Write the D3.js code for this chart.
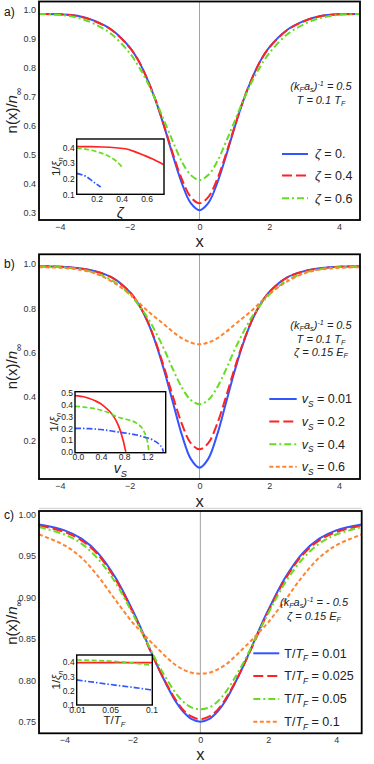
<!DOCTYPE html>
<html>
<head>
<meta charset="utf-8">
<script src="https://cdn.jsdelivr.net/npm/d3@7"></script>
<style>
body { margin: 0; background: #fff; }
svg { display: block; font-family: "Liberation Sans", Arial, sans-serif; }
</style>
</head>
<body>
<svg width="374" height="764"></svg>
<script>
const svg = d3.select("svg");

// ---- data ----
const xAB = [-4.6,-4,-3.5,-3,-2.5,-2,-1.75,-1.5,-1.25,-1,-0.75,-0.5,-0.25,0,0.25,0.5,0.75,1,1.25,1.5,1.75,2,2.5,3,3.5,4,4.6];
const xC  = [-4.75,-4,-3.5,-3,-2.5,-2,-1.75,-1.5,-1.25,-1,-0.75,-0.5,-0.25,0,0.25,0.5,0.75,1,1.25,1.5,1.75,2,2.5,3,3.5,4,4.75];

// panel a: zeta = 0, 0.4, 0.6
const aZeta0  = [0.986,0.985,0.980,0.962,0.930,0.871,0.825,0.762,0.685,0.592,0.492,0.400,0.333,0.309,0.333,0.400,0.492,0.592,0.685,0.762,0.825,0.871,0.930,0.962,0.980,0.985,0.986];
const aZeta04 = [0.986,0.985,0.979,0.961,0.929,0.870,0.825,0.762,0.686,0.595,0.499,0.414,0.354,0.333,0.354,0.414,0.499,0.595,0.686,0.762,0.825,0.870,0.929,0.961,0.979,0.985,0.986];
const aZeta06 = [0.986,0.983,0.973,0.951,0.914,0.851,0.806,0.752,0.686,0.614,0.542,0.475,0.430,0.413,0.430,0.475,0.542,0.614,0.686,0.752,0.806,0.851,0.914,0.951,0.973,0.983,0.986];

// panel b: vS = 0.01, 0.2, 0.4, 0.6
const bV001 = [0.990,0.988,0.982,0.968,0.939,0.874,0.819,0.743,0.640,0.512,0.367,0.225,0.119,0.079,0.119,0.225,0.367,0.512,0.640,0.743,0.819,0.874,0.939,0.968,0.982,0.988,0.990];
const bV02  = [0.990,0.988,0.981,0.967,0.938,0.873,0.820,0.745,0.645,0.525,0.395,0.275,0.190,0.162,0.190,0.275,0.395,0.525,0.645,0.745,0.820,0.873,0.938,0.967,0.981,0.988,0.990];
const bV04  = [0.990,0.986,0.978,0.960,0.925,0.862,0.815,0.760,0.690,0.610,0.520,0.440,0.385,0.366,0.385,0.440,0.520,0.610,0.690,0.760,0.815,0.862,0.925,0.960,0.978,0.986,0.990];
const bV06  = [0.986,0.983,0.976,0.958,0.920,0.865,0.828,0.790,0.757,0.725,0.692,0.664,0.645,0.637,0.645,0.664,0.692,0.725,0.757,0.790,0.828,0.865,0.920,0.958,0.976,0.983,0.986];

// panel c: T/TF = 0.01, 0.025, 0.05, 0.1
const cT001  = [0.988,0.981,0.971,0.953,0.924,0.885,0.863,0.839,0.816,0.795,0.776,0.762,0.753,0.750,0.753,0.762,0.776,0.795,0.816,0.839,0.863,0.885,0.924,0.953,0.971,0.981,0.988];
const cT0025 = [0.987,0.979,0.969,0.951,0.922,0.883,0.861,0.838,0.816,0.796,0.778,0.764,0.756,0.753,0.756,0.764,0.778,0.796,0.816,0.838,0.861,0.883,0.922,0.951,0.969,0.979,0.987];
const cT005  = [0.985,0.976,0.965,0.946,0.918,0.881,0.861,0.840,0.820,0.802,0.786,0.774,0.767,0.765,0.767,0.774,0.786,0.802,0.820,0.840,0.861,0.881,0.918,0.946,0.965,0.976,0.985];
const cT01   = [0.976,0.963,0.948,0.925,0.897,0.870,0.859,0.848,0.838,0.828,0.819,0.813,0.809,0.808,0.809,0.813,0.819,0.828,0.838,0.848,0.859,0.870,0.897,0.925,0.948,0.963,0.976];

// insets: 1/xi_n
const insAx1 = [0.04,0.15,0.25,0.35,0.44,0.5,0.573,0.65,0.733];
const insAy1 = [0.404,0.404,0.402,0.397,0.389,0.374,0.351,0.325,0.291];
const insAx2 = [0.04,0.1,0.2,0.3,0.36,0.413];
const insAy2 = [0.395,0.39,0.372,0.342,0.31,0.266];
const insAx3 = [0.04,0.08,0.12,0.17,0.2,0.232];
const insAy3 = [0.234,0.225,0.212,0.182,0.165,0.147];

const insBx1 = [-0.05,0,0.1,0.2,0.3,0.383,0.46,0.555,0.62,0.67,0.72,0.757,0.79,0.815,0.83];
const insBy1 = [0.48,0.478,0.47,0.455,0.435,0.414,0.385,0.342,0.3,0.257,0.2,0.143,0.085,0.029,0.0];
const insBx2 = [-0.05,0.1,0.25,0.383,0.5,0.67,0.85,1.02,1.13,1.18,1.21,1.23];
const insBy2 = [0.388,0.382,0.372,0.357,0.34,0.30,0.275,0.243,0.186,0.13,0.07,0.0];
const insBx3 = [-0.05,0.2,0.4,0.67,0.85,1.02,1.15,1.3,1.42,1.46,1.48];
const insBy3 = [0.2,0.197,0.19,0.171,0.158,0.143,0.125,0.1,0.057,0.03,0.0];

const insCx1 = [0.0096,0.101];
const insCy1 = [0.398,0.398];
const insCx2 = [0.0096,0.03,0.05,0.07,0.085,0.101];
const insCy2 = [0.416,0.413,0.408,0.399,0.39,0.378];
const insCx3 = [0.0096,0.03,0.056,0.08,0.101];
const insCy3 = [0.276,0.26,0.24,0.222,0.205];

// tick labels
const xTicksMain = [-4,-2,0,2,4];
const yTicksA = [0.3,0.4,0.5,0.6,0.7,0.8,0.9,1.0];
const yTicksB = [0.2,0.4,0.6,0.8,1.0];
const yTicksC = [0.75,0.80,0.85,0.90,0.95,1.00];

// ---- styles ----
const BLUE = "#3355ff", RED = "#ff2222", GREEN = "#66dd22", ORANGE = "#ff8430";
const sBlue = {color: BLUE, dash: null};
const sRed = {color: RED, dash: "10,4"};
const sGreen = {color: GREEN, dash: "7,3,2,3"};
const sOrange = {color: ORANGE, dash: "4,2.5"};
const iRed = {color: RED, dash: null};
const iGreen = {color: GREEN, dash: "5,2.5"};
const iBlue = {color: BLUE, dash: "6,2,1.5,2"};

// text with italic / sub / sup parts
function rich(sel, parts, size, subShift = 0.3) {
  let shift = 0;
  parts.forEach(p => {
    const ts = sel.append("tspan").text(p.t);
    if (p.i) ts.attr("font-style", "italic");
    const target = p.sub ? size * subShift : p.sup ? -size * 0.36 : 0;
    if (target !== shift) { ts.attr("dy", target - shift); shift = target; }
    if (p.sub || p.sup) ts.attr("font-size", size * 0.66);
  });
  return sel;
}

function styleAxis(a, size, color) {
  a.select(".domain").remove();
  a.attr("font-family", null).attr("font-size", size);
  a.selectAll("text").attr("fill", color);
}

function drawPanel(p) {
  const [L, R, T, B] = p.box;
  const g = svg.append("g");
  const x = d3.scaleLinear().domain(p.xDomain).range([L, R]);
  const y = d3.scaleLinear().domain(p.yDomain).range([B, T]);

  svg.append("clipPath").attr("id", "clip" + p.name)
    .append("rect").attr("x", L).attr("y", T).attr("width", R - L).attr("height", B - T);

  g.append("line")
    .attr("x1", x(0)).attr("x2", x(0)).attr("y1", T).attr("y2", B)
    .attr("stroke", "#999").attr("stroke-width", 0.9);

  const line = d3.line().x(d => x(d[0])).y(d => y(d[1])).curve(d3.curveCatmullRom);
  const curves = g.append("g").attr("clip-path", `url(#clip${p.name})`);
  p.series.forEach(s => {
    curves.append("path")
      .attr("d", line(p.xs.map((v, i) => [v, s.values[i]])))
      .attr("fill", "none")
      .attr("stroke", s.style.color)
      .attr("stroke-width", 2)
      .attr("stroke-dasharray", s.style.dash);
  });

  g.append("rect").attr("x", L).attr("y", T).attr("width", R - L).attr("height", B - T)
    .attr("fill", "none").attr("stroke", "#000").attr("stroke-width", 1.8);

  g.append("g").attr("transform", `translate(0,${B})`)
    .call(d3.axisBottom(x).tickValues(xTicksMain).tickSize(0).tickPadding(3.5).tickFormat(d3.format("d")))
    .call(a => styleAxis(a, 9, "#333"));
  g.append("g").attr("transform", `translate(${L},0)`)
    .call(d3.axisLeft(y).tickValues(p.yTicks).tickSize(0).tickPadding(3).tickFormat(d3.format(p.yFormat)))
    .call(a => styleAxis(a, 9, "#333"));

  // axis titles
  g.append("text").attr("x", x(0)).attr("y", p.xTitleY).attr("text-anchor", "middle")
    .attr("font-size", 16.5).attr("fill", "#222").text("x");
  rich(g.append("text").attr("transform", `translate(17,${(T + B) / 2}) rotate(-90)`)
    .attr("text-anchor", "middle").attr("font-size", 15).attr("fill", "#222"),
    [{t: "n(x)/"}, {t: "n", i: true}, {t: "∞", sub: true}], 15);
  g.append("text").attr("x", 4).attr("y", p.tagY).attr("font-size", 12).attr("fill", "#111").text(p.tag);

  // annotation
  p.notes.forEach((parts, i) => {
    rich(g.append("text").attr("x", p.noteX).attr("y", p.noteY + i * p.noteStep)
      .attr("text-anchor", "middle").attr("font-size", 11).attr("font-style", "italic").attr("fill", "#222"),
      parts, 11, 0.22);
  });

  // legend
  p.legend.forEach((item, i) => {
    const ly = p.legendY[i];
    g.append("line").attr("x1", p.legendX[0]).attr("x2", p.legendX[1]).attr("y1", ly).attr("y2", ly)
      .attr("stroke", item.style.color).attr("stroke-width", 2).attr("stroke-dasharray", item.style.dash);
    rich(g.append("text").attr("x", p.legendX[2]).attr("y", ly + 4.3)
      .attr("font-size", 12.5).attr("fill", "#222"), item.parts, 12.5);
  });

  drawInset(p.inset);
}

function drawInset(q) {
  const [L, R, T, B] = q.box;
  const g = svg.append("g");
  const x = d3.scaleLinear().domain(q.xDomain).range([L, R]);
  const y = d3.scaleLinear().domain(q.yDomain).range([B, T]);
  g.append("rect").attr("x", L).attr("y", T).attr("width", R - L).attr("height", B - T).attr("fill", "#fff");
  const line = d3.line().x(d => x(d[0])).y(d => y(d[1])).curve(d3.curveMonotoneX);
  q.series.forEach(s => {
    g.append("path")
      .attr("d", line(s.xs.map((v, i) => [v, s.ys[i]])))
      .attr("fill", "none").attr("stroke", s.style.color)
      .attr("stroke-width", 1.7).attr("stroke-dasharray", s.style.dash);
  });
  g.append("rect").attr("x", L).attr("y", T).attr("width", R - L).attr("height", B - T)
    .attr("fill", "none").attr("stroke", "#000").attr("stroke-width", 1.4);
  g.append("g").attr("transform", `translate(0,${B})`)
    .call(d3.axisBottom(x).tickValues(q.xTicks).tickSize(0).tickPadding(q.xPad).tickFormat(q.xFormat))
    .call(a => styleAxis(a, 8.5, "#222"));
  g.append("g").attr("transform", `translate(${L},0)`)
    .call(d3.axisLeft(y).tickValues(q.yTicks).tickSize(0).tickPadding(2).tickFormat(d3.format(".1f")))
    .call(a => styleAxis(a, 8.5, "#222"));
  rich(g.append("text").attr("x", (L + R) / 2).attr("y", q.xTitleY).attr("text-anchor", "middle")
    .attr("font-size", q.xTitleSize).attr("fill", "#222"), q.xTitle, q.xTitleSize);
  rich(g.append("text").attr("transform", `translate(${q.yTitleX},${(T + B) / 2}) rotate(-90)`)
    .attr("text-anchor", "middle").attr("font-size", 11.5).attr("fill", "#222"),
    [{t: "1/"}, {t: "ξ", i: true}, {t: "n", i: true, sub: true}], 11.5);
}

// thin grey rule above panel c
svg.append("line").attr("x1", 39).attr("x2", 361.7).attr("y1", 508.3).attr("y2", 508.3)
  .attr("stroke", "#ccc").attr("stroke-width", 1);

const kfas = v => [{t: "(k"}, {t: "F", sub: true}, {t: "a"}, {t: "s", sub: true}, {t: ")"}, {t: "-1", sup: true}, {t: " = " + v}];

drawPanel({
  name: "a", tag: "a)", tagY: 16,
  box: [39, 360, 1.5, 220], xDomain: [-4.6, 4.6], yDomain: [0.275, 1.029],
  xs: xAB, yTicks: yTicksA, yFormat: ".1f", xTitleY: 246.5,
  series: [{values: aZeta0, style: sBlue}, {values: aZeta04, style: sRed}, {values: aZeta06, style: sGreen}],
  notes: [kfas("0.5"), [{t: "T = 0.1 T"}, {t: "F", sub: true}]], noteX: 321, noteY: 90, noteStep: 13.5,
  legendX: [282, 308, 315], legendY: [154, 175.5, 198.3],
  legend: [
    {style: sBlue, parts: [{t: "ζ", i: true}, {t: " = 0."}]},
    {style: sRed, parts: [{t: "ζ", i: true}, {t: " = 0.4"}]},
    {style: sGreen, parts: [{t: "ζ", i: true}, {t: " = 0.6"}]}
  ],
  inset: {
    box: [76.7, 164, 139, 194.3], xDomain: [0.04, 0.74], yDomain: [0.1, 0.453],
    xTicks: [0.2, 0.4, 0.6], xFormat: d3.format(".1f"), xPad: 2, yTicks: [0.1, 0.2, 0.3, 0.4],
    series: [{xs: insAx1, ys: insAy1, style: iRed}, {xs: insAx2, ys: insAy2, style: iGreen}, {xs: insAx3, ys: insAy3, style: iBlue}],
    xTitle: [{t: "ζ", i: true}], xTitleSize: 15, xTitleY: 217.5, yTitleX: 59.5
  }
});

drawPanel({
  name: "b", tag: "b)", tagY: 268,
  box: [39, 360, 254.3, 479], xDomain: [-4.6, 4.6], yDomain: [0.028, 1.044],
  xs: xAB, yTicks: yTicksB, yFormat: ".1f", xTitleY: 506.5,
  series: [{values: bV001, style: sBlue}, {values: bV02, style: sRed}, {values: bV04, style: sGreen}, {values: bV06, style: sOrange}],
  notes: [kfas("0.5"), [{t: "T = 0.1 T"}, {t: "F", sub: true}], [{t: "ζ = 0.15 E"}, {t: "F", sub: true}]],
  noteX: 321, noteY: 329, noteStep: 13.5,
  legendX: [269.3, 296.7, 301.7], legendY: [399, 421.5, 444.3, 466.7],
  legend: [
    {style: sBlue, parts: [{t: "v", i: true}, {t: "S", i: true, sub: true}, {t: " = 0.01"}]},
    {style: sRed, parts: [{t: "v", i: true}, {t: "S", i: true, sub: true}, {t: " = 0.2"}]},
    {style: sGreen, parts: [{t: "v", i: true}, {t: "S", i: true, sub: true}, {t: " = 0.4"}]},
    {style: sOrange, parts: [{t: "v", i: true}, {t: "S", i: true, sub: true}, {t: " = 0.6"}]}
  ],
  inset: {
    box: [75, 165.7, 391.7, 452.7], xDomain: [-0.05, 1.52], yDomain: [-0.008, 0.513],
    xTicks: [0, 0.4, 0.8, 1.2], xFormat: d3.format(".1f"), xPad: 1.5, yTicks: [0, 0.1, 0.2, 0.3, 0.4, 0.5],
    series: [{xs: insBx1, ys: insBy1, style: iRed}, {xs: insBx2, ys: insBy2, style: iGreen}, {xs: insBx3, ys: insBy3, style: iBlue}],
    xTitle: [{t: "v", i: true}, {t: "S", i: true, sub: true}], xTitleSize: 14, xTitleY: 473, yTitleX: 57.5
  }
});

drawPanel({
  name: "c", tag: "c)", tagY: 519,
  box: [39, 361.7, 511, 733.3], xDomain: [-4.75, 4.75], yDomain: [0.736, 1.0044],
  xs: xC, yTicks: yTicksC, yFormat: ".2f", xTitleY: 759.5,
  series: [{values: cT001, style: sBlue}, {values: cT0025, style: sRed}, {values: cT005, style: sGreen}, {values: cT01, style: sOrange}],
  notes: [kfas("- 0.5"), [{t: "ζ = 0.15 E"}, {t: "F", sub: true}]], noteX: 314, noteY: 606, noteStep: 13.5,
  legendX: [253.3, 279.3, 284.3], legendY: [653.3, 676, 699, 721.7],
  legend: [
    {style: sBlue, parts: [{t: "T/"}, {t: "T", i: true}, {t: "F", i: true, sub: true}, {t: " = 0.01"}]},
    {style: sRed, parts: [{t: "T/"}, {t: "T", i: true}, {t: "F", i: true, sub: true}, {t: " = 0.025"}]},
    {style: sGreen, parts: [{t: "T/"}, {t: "T", i: true}, {t: "F", i: true, sub: true}, {t: " = 0.05"}]},
    {style: sOrange, parts: [{t: "T/"}, {t: "T", i: true}, {t: "F", i: true, sub: true}, {t: " = 0.1"}]}
  ],
  inset: {
    box: [76.7, 152.3, 655, 705], xDomain: [0.00964, 0.101], yDomain: [0.1, 0.451],
    xTicks: [0.01, 0.05, 0.1], xFormat: d => String(d), xPad: 2, yTicks: [0.1, 0.2, 0.3, 0.4],
    series: [{xs: insCx1, ys: insCy1, style: iRed}, {xs: insCx2, ys: insCy2, style: iGreen}, {xs: insCx3, ys: insCy3, style: iBlue}],
    xTitle: [{t: "T/"}, {t: "T", i: true}, {t: "F", i: true, sub: true}], xTitleSize: 11.5, xTitleY: 724, yTitleX: 59.5
  }
});
</script>
</body>
</html>
